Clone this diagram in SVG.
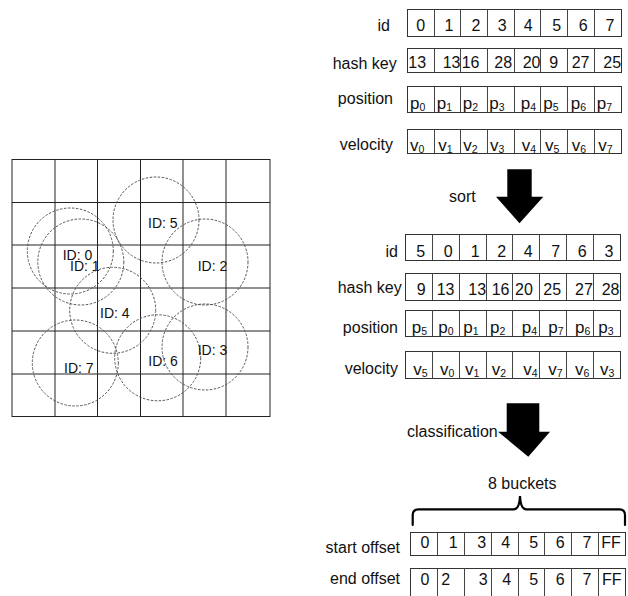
<svg xmlns="http://www.w3.org/2000/svg" width="628" height="596" viewBox="0 0 628 596">
  <style>
    text { font-family: "Liberation Sans", Arial, Helvetica, sans-serif; fill: #111; }
    .lbl { font-size: 16px; text-anchor: end; }
    .num { font-size: 16px; }
    .pv { font-size: 17px; }
    .mid { text-anchor: middle; }
    .sub { font-size: 10.5px; }
    .idl { font-size: 14px; }
    .grid { fill: none; stroke: #222; stroke-width: 1; }
    .cell { fill: #fff; stroke: #333; stroke-width: 1; }
    .div { stroke: #444; stroke-width: 1; fill: none; }
    .circ { fill: none; stroke: #555; stroke-width: 1; stroke-dasharray: 2.5 1.5; }
    .arrow { fill: #000; }
    .brace { fill: none; stroke: #000; stroke-width: 2.2; stroke-linecap: round; }
  </style>

  <!-- spatial grid with particles -->
  <g id="grid">
    <rect class="grid" x="12" y="159.5" width="258" height="257"/>
    <path class="grid" d="M55,159.5V416.5M97.5,159.5V416.5M140.5,159.5V416.5M183,159.5V416.5M226,159.5V416.5
                          M12,202.5H270M12,245H270M12,288H270M12,331H270M12,374H270"/>
  </g>
  <g id="particle-5"><circle class="circ" cx="156" cy="220" r="43"/><text class="idl" x="148" y="228">ID: 5</text></g>
  <g id="particle-0"><circle class="circ" cx="70.3" cy="251" r="43"/><text class="idl" x="62.7" y="260">ID: 0</text></g>
  <g id="particle-1"><circle class="circ" cx="80.8" cy="262" r="43"/><text class="idl" x="70" y="270.7">ID: 1</text></g>
  <g id="particle-2"><circle class="circ" cx="205" cy="262" r="43"/><text class="idl" x="197.7" y="270.7">ID: 2</text></g>
  <g id="particle-4"><circle class="circ" cx="112.7" cy="310.3" r="43"/><text class="idl" x="100" y="318">ID: 4</text></g>
  <g id="particle-7"><circle class="circ" cx="75.3" cy="363" r="43"/><text class="idl" x="64" y="372.7">ID: 7</text></g>
  <g id="particle-6"><circle class="circ" cx="157.7" cy="357.8" r="43"/><text class="idl" x="148.3" y="366">ID: 6</text></g>
  <g id="particle-3"><circle class="circ" cx="205" cy="347" r="43"/><text class="idl" x="197.7" y="355">ID: 3</text></g>

  <!-- unsorted arrays -->
  <g id="row-id">
    <text class="lbl" x="390" y="31">id</text>
    <rect class="cell" x="407.5" y="9.5" width="214" height="27"/>
    <path class="div" d="M434.5,9.5v27M460.5,9.5v27M487.5,9.5v27M514.5,9.5v27M540.5,9.5v27M567.5,9.5v27M594.5,9.5v27"/>
    <g class="num mid">
      <text x="420.7" y="30.7">0</text><text x="449" y="30.7">1</text><text x="476" y="30.7">2</text><text x="502.3" y="30.7">3</text>
      <text x="528.3" y="30.7">4</text><text x="556.7" y="30.7">5</text><text x="583.3" y="30.7">6</text><text x="610" y="30.7">7</text>
    </g>
  </g>
  <g id="row-hash">
    <text class="lbl" x="396.7" y="68.5">hash key</text>
    <rect class="cell" x="407.5" y="48.5" width="214" height="24"/>
    <path class="div" d="M434.5,48.5v24M460.5,48.5v24M487.5,48.5v24M514.5,48.5v24M540.5,48.5v24M567.5,48.5v24M594.5,48.5v24"/>
    <g class="num">
      <text x="408.3" y="68.3">13</text><text x="442.7" y="68.3">13</text><text x="461.7" y="68.3">16</text><text x="494.3" y="68.3">28</text>
      <text x="522.7" y="68.3">20</text><text x="549.3" y="68.3">9</text><text x="571.7" y="68.3">27</text><text x="603.3" y="68.3">25</text>
    </g>
  </g>
  <g id="row-position">
    <text class="lbl" x="393" y="104">position</text>
    <rect class="cell" x="407.5" y="86.5" width="214" height="26"/>
    <path class="div" d="M434.5,86.5v26M460.5,86.5v26M487.5,86.5v26M514.5,86.5v26M540.5,86.5v26M567.5,86.5v26M594.5,86.5v26"/>
    <g class="pv">
      <text x="410" y="108.5">p<tspan class="sub" dy="2.5">0</tspan></text>
      <text x="436.7" y="108.5">p<tspan class="sub" dy="2.5">1</tspan></text>
      <text x="462.7" y="108.5">p<tspan class="sub" dy="2.5">2</tspan></text>
      <text x="489.3" y="108.5">p<tspan class="sub" dy="2.5">3</tspan></text>
      <text x="520.7" y="108.5">p<tspan class="sub" dy="2.5">4</tspan></text>
      <text x="543.3" y="108.5">p<tspan class="sub" dy="2.5">5</tspan></text>
      <text x="570.7" y="108.5">p<tspan class="sub" dy="2.5">6</tspan></text>
      <text x="596.7" y="108.5">p<tspan class="sub" dy="2.5">7</tspan></text>
    </g>
  </g>
  <g id="row-velocity">
    <text class="lbl" x="393" y="150">velocity</text>
    <rect class="cell" x="407.5" y="129.5" width="214" height="24"/>
    <path class="div" d="M434.5,129.5v24M460.5,129.5v24M487.5,129.5v24M514.5,129.5v24M540.5,129.5v24M567.5,129.5v24M594.5,129.5v24"/>
    <g class="pv">
      <text x="410" y="150.5">v<tspan class="sub" dy="2">0</tspan></text>
      <text x="438.3" y="150.5">v<tspan class="sub" dy="2">1</tspan></text>
      <text x="463.3" y="150.5">v<tspan class="sub" dy="2">2</tspan></text>
      <text x="490" y="150.5">v<tspan class="sub" dy="2">3</tspan></text>
      <text x="521.7" y="150.5">v<tspan class="sub" dy="2">4</tspan></text>
      <text x="545" y="150.5">v<tspan class="sub" dy="2">5</tspan></text>
      <text x="571.7" y="150.5">v<tspan class="sub" dy="2">6</tspan></text>
      <text x="598.3" y="150.5">v<tspan class="sub" dy="2">7</tspan></text>
    </g>
  </g>

  <!-- sorted arrays -->
  <g id="sorted-id">
    <text class="lbl" x="398" y="257">id</text>
    <rect class="cell" x="405.5" y="234.5" width="215" height="26"/>
    <path class="div" d="M432.5,234.5v26M459.5,234.5v26M486.5,234.5v26M512.5,234.5v26M539.5,234.5v26M566.5,234.5v26M593.5,234.5v26"/>
    <g class="num mid">
      <text x="420.7" y="256.7">5</text><text x="448.3" y="256.7">0</text><text x="475.3" y="256.7">1</text><text x="501.7" y="256.7">2</text>
      <text x="528.3" y="256.7">4</text><text x="555.7" y="256.7">7</text><text x="582.3" y="256.7">6</text><text x="609" y="256.7">3</text>
    </g>
  </g>
  <g id="sorted-hash">
    <text class="lbl" x="401.7" y="293">hash key</text>
    <rect class="cell" x="405.5" y="273.5" width="215" height="27"/>
    <path class="div" d="M432.5,273.5v27M459.5,273.5v27M486.5,273.5v27M512.5,273.5v27M539.5,273.5v27M566.5,273.5v27M593.5,273.5v27"/>
    <g class="num">
      <text x="416.7" y="295">9</text><text x="436.7" y="295">13</text><text x="468.3" y="295">13</text><text x="491.7" y="295">16</text>
      <text x="515" y="295">20</text><text x="543.3" y="295">25</text><text x="575" y="295">27</text><text x="601.7" y="295">28</text>
    </g>
  </g>
  <g id="sorted-position">
    <text class="lbl" x="398" y="333">position</text>
    <rect class="cell" x="405.5" y="310.5" width="215" height="26"/>
    <path class="div" d="M432.5,310.5v26M459.5,310.5v26M486.5,310.5v26M512.5,310.5v26M539.5,310.5v26M566.5,310.5v26M593.5,310.5v26"/>
    <g class="pv">
      <text x="411.7" y="332.5">p<tspan class="sub" dy="2.5">5</tspan></text>
      <text x="438.3" y="332.5">p<tspan class="sub" dy="2.5">0</tspan></text>
      <text x="463.3" y="332.5">p<tspan class="sub" dy="2.5">1</tspan></text>
      <text x="490" y="332.5">p<tspan class="sub" dy="2.5">2</tspan></text>
      <text x="521.7" y="332.5">p<tspan class="sub" dy="2.5">4</tspan></text>
      <text x="548.3" y="332.5">p<tspan class="sub" dy="2.5">7</tspan></text>
      <text x="575" y="332.5">p<tspan class="sub" dy="2.5">6</tspan></text>
      <text x="598.3" y="332.5">p<tspan class="sub" dy="2.5">3</tspan></text>
    </g>
  </g>
  <g id="sorted-velocity">
    <text class="lbl" x="398" y="374">velocity</text>
    <rect class="cell" x="405.5" y="351.5" width="215" height="27"/>
    <path class="div" d="M432.5,351.5v27M459.5,351.5v27M486.5,351.5v27M512.5,351.5v27M539.5,351.5v27M566.5,351.5v27M593.5,351.5v27"/>
    <g class="pv">
      <text x="413.3" y="375">v<tspan class="sub" dy="2">5</tspan></text>
      <text x="440" y="375">v<tspan class="sub" dy="2">0</tspan></text>
      <text x="465" y="375">v<tspan class="sub" dy="2">1</tspan></text>
      <text x="491.7" y="375">v<tspan class="sub" dy="2">2</tspan></text>
      <text x="523.3" y="375">v<tspan class="sub" dy="2">4</tspan></text>
      <text x="548.3" y="375">v<tspan class="sub" dy="2">7</tspan></text>
      <text x="575" y="375">v<tspan class="sub" dy="2">6</tspan></text>
      <text x="600" y="375">v<tspan class="sub" dy="2">3</tspan></text>
    </g>
  </g>

  <!-- bucket offsets -->
  <g id="start-offset">
    <text class="lbl" x="400" y="553">start offset</text>
    <rect class="cell" x="410.5" y="532.5" width="215" height="23"/>
    <path class="div" d="M437.5,532.5v23M464.5,532.5v23M491.5,532.5v23M518.5,532.5v23M544.5,532.5v23M571.5,532.5v23M598.5,532.5v23"/>
    <g class="num mid">
      <text x="425" y="548.3">0</text><text x="453.3" y="548.3">1</text><text x="481.7" y="548.3">3</text><text x="505.7" y="548.3">4</text>
      <text x="533.7" y="548.3">5</text><text x="560.3" y="548.3">6</text><text x="587" y="548.3">7</text><text x="611" y="548.3">FF</text>
    </g>
  </g>
  <g id="end-offset">
    <text class="lbl" x="400" y="583.5">end offset</text>
    <rect class="cell" x="410.5" y="568.5" width="215" height="34"/>
    <path class="div" d="M437.5,568.5v30M464.5,568.5v30M491.5,568.5v30M518.5,568.5v30M544.5,568.5v30M571.5,568.5v30M598.5,568.5v30"/>
    <g class="num mid">
      <text x="425" y="585">0</text><text x="445.7" y="585">2</text><text x="483.3" y="585">3</text><text x="506.7" y="585">4</text>
      <text x="533.7" y="585">5</text><text x="560.3" y="585">6</text><text x="587" y="585">7</text><text x="611.7" y="585">FF</text>
    </g>
  </g>

  <!-- transitions between stages -->
  <g id="connectors">
    <polygon class="arrow" points="507.3,169.3 531.7,169.3 531.7,196.7 543.3,196.7 519.5,223.3 496,196.7 507.3,196.7"/>
    <text class="num" x="449" y="201.7">sort</text>
    <polygon class="arrow" points="506.7,403.3 539.3,403.3 539.3,431.7 550,431.7 528.3,456.7 498,431.7 506.7,431.7"/>
    <text class="num" x="407" y="436.7">classification</text>
    <path class="brace" d="M412.7,525V515Q412.7,509.3 418.5,509.3H514Q519.5,509.3 520,496Q520.5,509.3 526,509.3H619.5Q625,509.3 625,515V525"/>
    <text class="num" x="488" y="489">8 buckets</text>
  </g>
</svg>
